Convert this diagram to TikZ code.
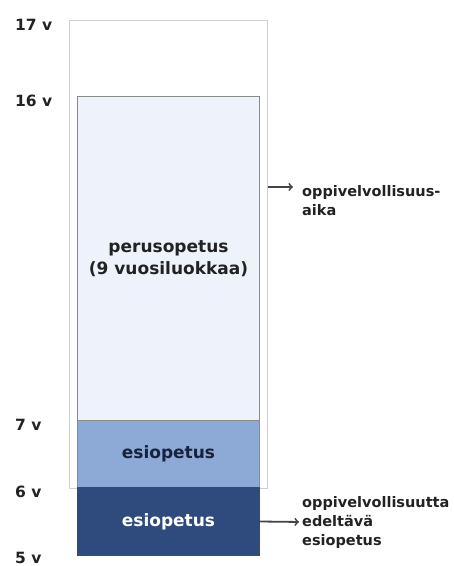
\documentclass[tikz,border=0pt]{standalone}
\usepackage{fontspec}
\setmainfont{DejaVu Sans}
\usepackage{tikz}
\usetikzlibrary{positioning,arrows}
\definecolor{frame}    {HTML}{CFCFCF}
\definecolor{edge}     {HTML}{8A8A8A}
\definecolor{paleblue} {HTML}{EEF3FB}
\definecolor{midblue}  {HTML}{8DA9D6}
\definecolor{deepblue} {HTML}{2F4B7E}
\definecolor{ink}      {HTML}{222222}
\definecolor{navy}     {HTML}{17233D}
\definecolor{arrowink} {HTML}{444444}
\tikzset{
  >=to,
  % --- nodes
  band/.style  = {anchor=north west, minimum width=182, inner sep=0pt,
                  draw=edge, line width=1pt, align=center,
                  font=\fontsize{17}{22}\selectfont\bfseries},
  age/.style   = {anchor=west, inner sep=0pt, text=ink,
                  font=\fontsize{15.5}{17}\selectfont\bfseries},
  side/.style  = {anchor=west, inner sep=0pt, align=left, text=ink,
                  font=\fontsize{14.5}{19}\selectfont\bfseries},
  % --- edges
  e/.style     = {->, line width=1.8pt, draw=arrowink},
}
\begin{document}
\begin{tikzpicture}[x=1pt,y=-1pt]
  \useasboundingbox[fill=white] (0,0) rectangle (454,566);
  % outer frame, 5 v .. 17 v
  \node[anchor=north west, minimum width=198, minimum height=468, inner sep=0pt,
        draw=frame, line width=1pt, fill=white] (frame) at (69,20) {};
  % bands
  \node[band, minimum height=324, fill=paleblue, text=ink] (peru) at (77,96)
    {perusopetus\\(9 vuosiluokkaa)};
  \node[band, minimum height=67, fill=midblue, text=navy] (esio) at (77,420)
    {esiopetus};
  \node[band, minimum height=68, fill=deepblue, draw=deepblue, text=white] (pre) at (77,487)
    {esiopetus};
  % ages
  \foreach \y/\a in {25/17, 101/16, 425/7, 492/6, 558/5}
  {
    \node[age] (age\a) at (15,\y) {\a\ v};
  }
  % side notes
  \node[side] (dutyA) at (302,201) {oppivelvollisuus-\\aika};
  \node[side] (dutyB) at (302,522) {oppivelvollisuutta\\edeltävä\\esiopetus};
  \coordinate (tipA) at (293,187);
  \draw[e] (frame.east |- tipA) -- (tipA);
  \draw[e, shorten >=3pt] (pre.east) -- (dutyB.west);
\end{tikzpicture}
\end{document}
